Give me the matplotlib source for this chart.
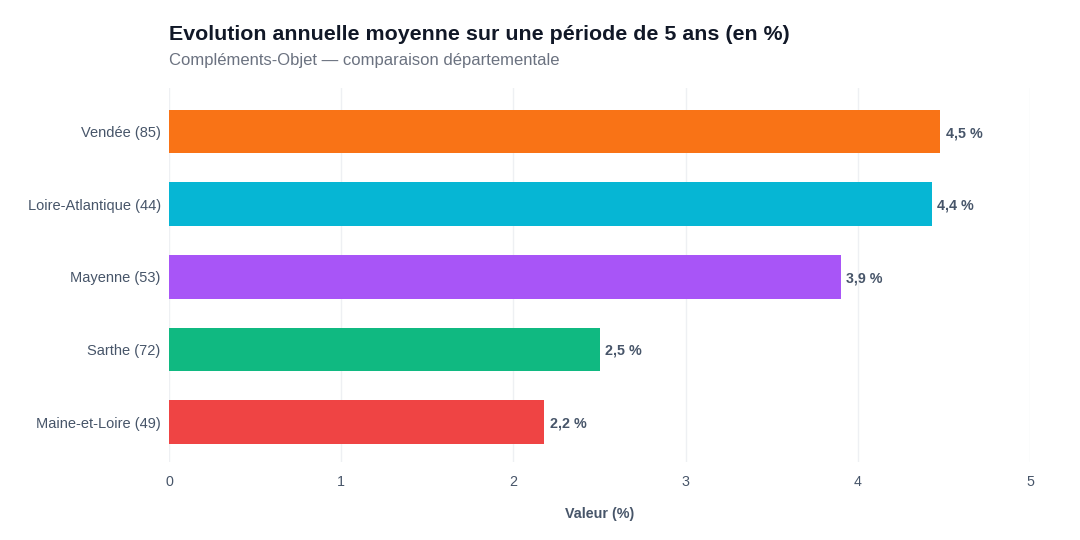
import matplotlib
matplotlib.use("Agg")
import matplotlib.pyplot as plt

# ─── Daten ────────────────────────────────────────────
departements = ["Vendée (85)", "Loire-Atlantique (44)", "Mayenne (53)",
                "Sarthe (72)", "Maine-et-Loire (49)"]
valeurs      = [4.48, 4.43, 3.90, 2.50, 2.18]
etiquettes   = ["4,5 %", "4,4 %", "3,9 %", "2,5 %", "2,2 %"]
couleurs     = ["#F97316", "#06B6D4", "#A855F7", "#10B981", "#EF4444"]
ticks_x      = [0, 1, 2, 3, 4, 5]

plt.rcParams["font.family"] = ["Liberation Sans", "DejaVu Sans"]

fig = plt.figure(figsize=(10.8, 5.4), dpi=100)
ax = fig.add_axes([169 / 1080, 1 - 462 / 540, (1030 - 169) / 1080, (462 - 88) / 540])

pos = list(range(len(departements)))
ax.barh(pos, valeurs, height=0.6, color=couleurs, zorder=3)

for p, v, t in zip(pos, valeurs, etiquettes):
    ax.text(v + 0.03, p + 0.02, t, va="center", ha="left", fontsize=10.3,
            fontweight="bold", color="#475569", zorder=4)

ax.set_xlim(0, 5)
ax.set_ylim(4.55, -0.6)
ax.set_xticks(ticks_x)
ax.set_xticklabels([str(t) for t in ticks_x])
ax.set_yticks(pos)
ax.set_yticklabels(departements)

ax.tick_params(axis="x", length=0, labelsize=10.3, colors="#475569", pad=9)
ax.tick_params(axis="y", length=0, labelsize=10.5, colors="#475569", pad=6)

ax.grid(axis="x", color="#EEF0F3", linewidth=1, zorder=0)
ax.grid(axis="y", visible=False)
for s in ax.spines.values():
    s.set_visible(False)

ax.set_xlabel("Valeur (%)", fontsize=10.3, fontweight="bold",
              color="#475569", labelpad=13)

fig.text(169 / 1080, 1 - 34 / 540, "Evolution annuelle moyenne sur une période de 5 ans (en %)",
         fontsize=15.4, fontweight="bold", color="#111827", va="center", ha="left")
fig.text(169 / 1080, 1 - 61 / 540, "Compléments-Objet — comparaison départementale",
         fontsize=12, color="#6B7280", va="center", ha="left")

fig.savefig("out.png", dpi=100, facecolor="white")
